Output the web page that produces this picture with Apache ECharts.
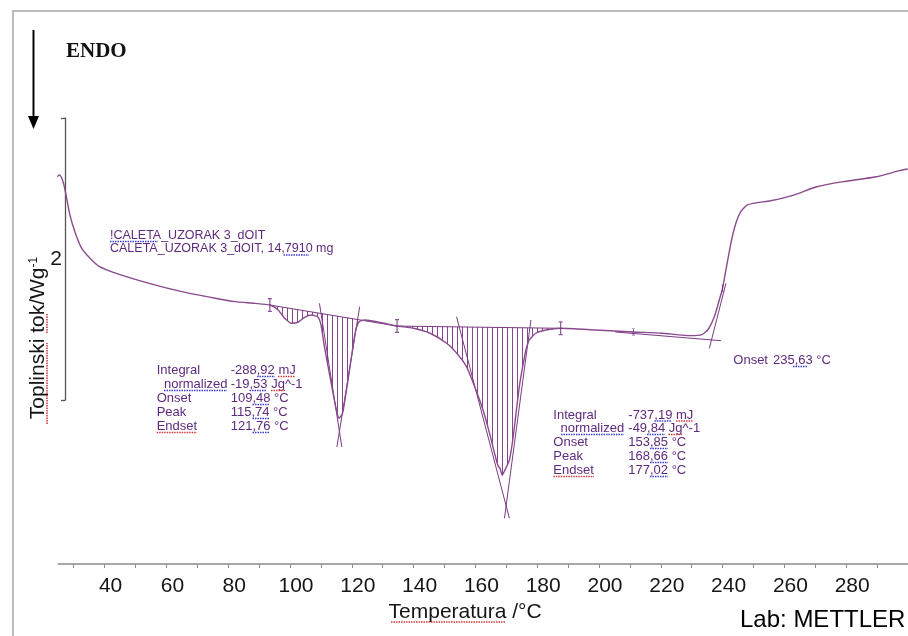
<!DOCTYPE html>
<html>
<head>
<meta charset="utf-8">
<script src="https://cdn.jsdelivr.net/npm/echarts@6/dist/echarts.min.js"></script>
<style>
html,body{margin:0;padding:0;background:#fff;}
#chart{width:908px;height:636px;}
</style>
</head>
<body>
<div id="chart"></div>
<script>
// ---- DSC curve (temperature in °C, heat flow in W/g, arbitrary offset) ----
const temperatureC = [24.70,25.34,26.04,26.85,27.71,28.77,30.37,32.52,35.19,38.40,43.75,54.44,65.03,75.84,82.26,88.67,
  93.48,96.15,98.30,100.42,102.57,104.72,106.83,108.98,110.04,111.13,112.74,114.34,115.24,115.82,117.00,118.61,120.21,
  121.27,122.36,123.97,126.63,130.38,134.65,140.01,145.33,150.69,154.45,157.11,159.77,162.47,164.59,166.19,167.28,
  168.02,168.66,169.40,171.00,172.09,173.15,174.21,175.30,176.36,177.42,179.57,182.78,187.59,198.82,211.11,220.22,
  229.85,233.06,235.17,237.32,238.93,239.99,241.08,242.68,244.28,245.89,248.01,251.22,255.51,262.99,270.46,279.03,
  289.72,297.22,299.90];
const heatFlowWg = [1.087,1.099,1.082,1.028,0.936,0.816,0.697,0.582,0.511,0.449,0.402,0.331,0.272,0.225,0.201,0.189,
  0.177,0.142,0.083,0.048,0.055,0.090,0.106,0.094,0.035,-0.118,-0.307,-0.496,-0.589,-0.626,-0.591,-0.378,-0.142,
  0.000,0.059,0.071,0.064,0.048,0.028,0.012,-0.023,-0.094,-0.177,-0.260,-0.402,-0.567,-0.733,-0.874,-0.960,
  -0.985,-1.030,-1.000,-0.922,-0.780,-0.591,-0.402,-0.260,-0.142,-0.071,-0.023,0.000,0.012,0.000,-0.014,-0.023,
  -0.040,-0.035,0.000,0.094,0.213,0.296,0.426,0.615,0.757,0.839,0.887,0.903,0.917,0.957,1.016,1.052,
  1.087,1.130,1.142];

// integration limits (°C) of the two hatched peaks
const peak1Limits = [93.48, 134.65];
const peak2Limits = [134.65, 187.59];
// integration baselines [T, W/g]
const baseline1 = [[93.48, 0.177], [134.65, 0.028]];
const baseline2 = [[134.65, 0.028], [187.59, 0.012]];
// tangent construction lines [T, W/g]
const tangentPeak1Left  = [[109.53, 0.189], [116.78, -0.830]];
const tangentPeak1Right = [[122.55, 0.165], [115.17, -0.830]];
const tangentPeak2Left  = [[153.90, 0.094], [171.00, -1.335]];
const tangentPeak2Right = [[177.97, 0.071], [169.40, -1.335]];
const tangentStepBase   = [[205.24, -0.014], [239.47, -0.076]];
const tangentStepSteep  = [[235.72, -0.130], [241.08, 0.331]];
// evaluation limit markers
const limitMarkersLarge = [[93.48, 0.177], [134.65, 0.028], [187.59, 0.012]];
const limitMarkersSmall = [[211.11, -0.014], [239.99, 0.296]];

// axis ticks / labels
const xTickValues  = [30,40,50,60,70,80,90,100,110,120,130,140,150,160,170,180,190,200,210,220,230,240,250,260,270,280,290];
const xLabelValues = [40,60,80,100,120,140,160,180,200,220,240,260,280];
const scaleBarSpan = [0, 2];

// texts
const sampleLines  = ['!CALETA_UZORAK 3_dOIT', 'CALETA_UZORAK 3_dOIT, 14,7910 mg'];
const resultLabels = ['Integral', '  normalized', 'Onset', 'Peak', 'Endset'];
const peak1Values  = ['-288,92 mJ', '-19,53 Jg^-1', '109,48 °C', '115,74 °C', '121,76 °C'];
const peak2Values  = ['-737,19 mJ', '-49,84 Jg^-1', '153,85 °C', '168,66 °C', '177,02 °C'];
const stepOnset    = ['Onset', '235,63 °C'];

// ---- build ----
const curve = temperatureC.map((t, i) => [t, heatFlowWg[i]]);
const regionPts = (lim) => curve.filter(p => p[0] >= lim[0] - 1e-9 && p[0] <= lim[1] + 1e-9);

const patternCanvas = document.createElement('canvas');
patternCanvas.width = 5; patternCanvas.height = 4;
(function () {
  const g = patternCanvas.getContext('2d');
  g.fillStyle = 'rgba(118,52,126,0.9)';
  g.fillRect(2, 0, 1, 4);
})();

const CURVE = '#8a4a8e';
const CONSTR = '#7a3a82';
const TXT = '#5f2a7e';
const BLUE = '#3b3bd6';
const RED = '#d83a3a';
const annFont = '13px "Liberation Sans", Arial, sans-serif';
const FONT = '"Liberation Sans", Arial, sans-serif';

function hatch(pts) {
  return {
    type: 'custom', coordinateSystem: 'cartesian2d', xAxisIndex: 0, yAxisIndex: 0,
    silent: true, z: 1, data: [pts[0]],
    renderItem: function (params, api) {
      return {
        type: 'polygon',
        shape: { points: pts.map(p => api.coord(p)) },
        style: { fill: { image: patternCanvas, repeat: 'repeat' }, stroke: null }
      };
    }
  };
}
function seg(pts, color, width) {
  return {
    type: 'line', xAxisIndex: 0, yAxisIndex: 0, data: pts, symbol: 'none', silent: true, z: 2,
    lineStyle: { color: color, width: width }
  };
}
// spell-check style underline decorations under the annotation texts
function uline(x1, x2, y, color) {
  return { type: 'line', silent: true, shape: { x1: x1, y1: y, x2: x2, y2: y },
    style: { stroke: color, lineWidth: 1.6, lineDash: [1.5, 1] } };
}
function vline(x, y1, y2, color) {
  return { type: 'line', silent: true, shape: { x1: x, y1: y1, x2: x, y2: y2 },
    style: { stroke: color, lineWidth: 1.6, lineDash: [1.5, 1] } };
}

const markerPath = 'path://M0,0 H4 V1.2 H2.6 V12.8 H4 V14 H0 V12.8 H1.4 V1.2 H0 Z';

const chart = echarts.init(document.getElementById('chart'));
chart.setOption({
  animation: false,
  backgroundColor: '#ffffff',
  grid: [
    { left: 58.25, width: 857.1, top: 19.8, bottom: 71.94 },
    { left: 65, width: 10, top: 118, height: 282 }
  ],
  xAxis: [
    {
      type: 'value', gridIndex: 0, min: 25, max: 300,
      axisLine: { show: true, onZero: false, lineStyle: { color: '#8c8c8c', width: 1.5 } },
      axisTick: { show: true, customValues: xTickValues, length: 4, lineStyle: { color: '#8c8c8c', width: 1 } },
      axisLabel: { customValues: xLabelValues, fontSize: 21, fontFamily: FONT,
        color: '#151515', margin: 12, padding: [0, 0, 0, 12] },
      splitLine: { show: false },
      name: 'Temperatura /°C', nameLocation: 'middle', nameGap: 37,
      nameTextStyle: { fontSize: 21, fontFamily: FONT, color: '#151515', padding: [0, 36, 0, 0] }
    },
    { type: 'value', gridIndex: 1, show: false, min: 0, max: 1 }
  ],
  yAxis: [
    { type: 'value', gridIndex: 0, min: -1.66, max: 2.2, show: false },
    {
      type: 'value', gridIndex: 1, min: scaleBarSpan[0], max: scaleBarSpan[1], interval: 2, position: 'left',
      axisLine: { show: true, onZero: false, lineStyle: { color: '#555', width: 1.3 } },
      axisTick: { show: true, length: 4, lineStyle: { color: '#555', width: 1.3 } },
      axisLabel: { show: false }, splitLine: { show: false },
      name: String(scaleBarSpan[1] - scaleBarSpan[0]), nameLocation: 'middle', nameRotate: 0, nameGap: 3,
      nameTextStyle: { fontSize: 21, fontFamily: FONT, color: '#151515', padding: [0, 0, 14, 0] }
    }
  ],
  series: [
    hatch(regionPts(peak1Limits)),
    hatch(regionPts(peak2Limits)),
    seg(baseline1, CONSTR, 1),
    seg(baseline2, CONSTR, 1),
    seg(tangentPeak1Left, CONSTR, 1),
    seg(tangentPeak1Right, CONSTR, 1),
    seg(tangentPeak2Left, CONSTR, 1),
    seg(tangentPeak2Right, CONSTR, 1),
    seg(tangentStepBase, CONSTR, 1),
    seg(tangentStepSteep, CONSTR, 1),
    {
      type: 'line', xAxisIndex: 0, yAxisIndex: 0, data: curve, symbol: 'none', smooth: 0.2,
      lineStyle: { color: CURVE, width: 1.4 }, z: 3, silent: true
    },
    {
      type: 'scatter', xAxisIndex: 0, yAxisIndex: 0, data: limitMarkersLarge, symbol: markerPath,
      symbolSize: [4, 14], itemStyle: { color: '#6e2a78' }, z: 4, silent: true
    },
    {
      type: 'scatter', xAxisIndex: 0, yAxisIndex: 0, data: limitMarkersSmall, symbol: markerPath,
      symbolSize: [3, 7], itemStyle: { color: '#6e2a78' }, z: 4, silent: true
    }
  ],
  graphic: [
    { type: 'polyline', silent: true, shape: { points: [[13, 636], [13, 11], [908, 11]] },
      style: { stroke: '#a6a6a6', lineWidth: 1.5, fill: null } },
    { type: 'line', silent: true, shape: { x1: 33.5, y1: 30, x2: 33.5, y2: 118 }, style: { stroke: '#000', lineWidth: 2 } },
    { type: 'polygon', silent: true, shape: { points: [[28, 116], [39, 116], [33.5, 129]] }, style: { fill: '#000' } },
    { type: 'text', silent: true, x: 66, y: 52,
      style: { text: 'ENDO', font: 'bold 21px "Liberation Serif", "Times New Roman", serif', fill: '#111', verticalAlign: 'middle' } },
    { type: 'text', silent: true, x: 38, y: 338, rotation: Math.PI / 2,
      style: { text: 'Toplinski tok/Wg{s|-1}', fontSize: 21, fontFamily: FONT, fill: '#151515',
        align: 'center', verticalAlign: 'middle',
        rich: { s: { fontSize: 12, fontFamily: FONT, fill: '#151515', verticalAlign: 'top' } } } },
    { type: 'text', silent: true, x: 740, y: 620,
      style: { text: 'Lab: METTLER', font: '24px ' + FONT, fill: '#000', verticalAlign: 'middle' } },
    { type: 'text', silent: true, x: 110, y: 228.6,
      style: { text: sampleLines.join('\n'), font: '12.5px ' + FONT, lineHeight: 13.3, fill: TXT, verticalAlign: 'top' } },
    { type: 'text', silent: true, x: 156.7, y: 362.9,
      style: { text: resultLabels.join('\n'), font: annFont, lineHeight: 14.2, fill: TXT, verticalAlign: 'top' } },
    { type: 'text', silent: true, x: 230.7, y: 362.9,
      style: { text: peak1Values.join('\n'), font: annFont, lineHeight: 14.2, fill: TXT, verticalAlign: 'top' } },
    { type: 'text', silent: true, x: 553.3, y: 408,
      style: { text: resultLabels.join('\n'), font: annFont, lineHeight: 13.9, fill: TXT, verticalAlign: 'top' } },
    { type: 'text', silent: true, x: 628.3, y: 408,
      style: { text: peak2Values.join('\n'), font: annFont, lineHeight: 13.9, fill: TXT, verticalAlign: 'top' } },
    { type: 'text', silent: true, x: 733.3, y: 360,
      style: { text: stepOnset[0], font: annFont, fill: TXT, verticalAlign: 'middle' } },
    { type: 'text', silent: true, x: 773, y: 360,
      style: { text: stepOnset[1], font: annFont, fill: TXT, verticalAlign: 'middle' } },
    // underline decorations
    uline(110, 158, 241.5, BLUE), uline(283.5, 309, 255, BLUE),
    uline(164, 227, 390.5, BLUE), uline(257, 275, 376.5, BLUE), uline(278, 295, 376.5, RED),
    uline(249.5, 267, 390.5, BLUE), uline(271, 285, 390.5, RED),
    uline(252.5, 270, 404.5, BLUE), uline(252.5, 270, 418.5, BLUE), uline(252.5, 270, 432.5, BLUE),
    uline(156.7, 197, 432.5, RED),
    uline(654.3, 672, 421, BLUE), uline(676, 693, 421, RED),
    uline(647, 665, 434.5, BLUE), uline(668.5, 682, 434.5, RED),
    uline(650, 668, 448.5, BLUE), uline(650, 668, 462.5, BLUE), uline(650, 668, 476.5, BLUE),
    uline(553.3, 594, 476.5, RED), uline(561, 624, 434.5, BLUE),
    uline(793, 808, 366.5, BLUE),
    uline(391, 506, 622, RED),
    vline(47, 424, 343, RED), vline(47, 333, 314, RED)
  ]
});
</script>
</body>
</html>
